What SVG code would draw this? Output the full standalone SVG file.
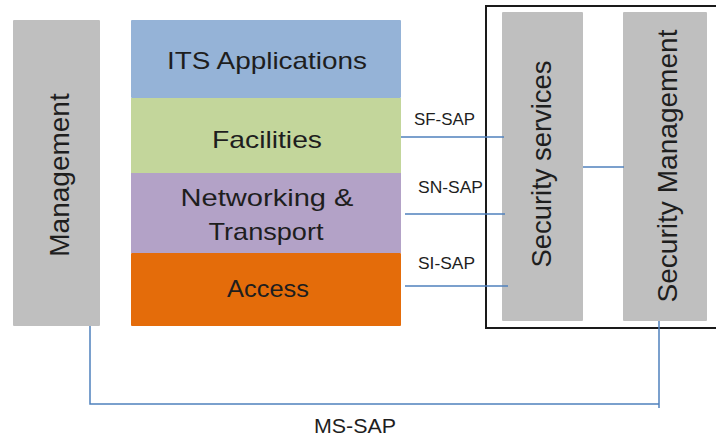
<svg xmlns="http://www.w3.org/2000/svg" width="716" height="439" viewBox="0 0 716 439">
  <style>
    .gray { fill: #bfbfbf; }
    .lbl { font-family: "Liberation Sans", Arial, sans-serif; fill: #1e1e1e; }
    .big { font-size: 24px; text-anchor: middle; }
    .vert { font-size: 28px; text-anchor: middle; }
    .sap { font-size: 17px; }
    .conn { stroke: #4f81bd; stroke-width: 1.5; fill: none; }
  </style>

  <!-- white page -->
  <rect x="0" y="0" width="716" height="439" fill="#ffffff"/>

  <!-- management column -->
  <g id="management">
    <rect class="gray" x="13" y="20" width="87" height="306" rx="1"/>
    <text class="lbl vert" transform="translate(69,175) rotate(-90)">Management</text>
  </g>

  <!-- protocol stack layers -->
  <g id="its-applications">
    <rect x="131" y="20" width="270" height="78" fill="#95b3d7" rx="1"/>
    <text class="lbl big" x="267" y="69" textLength="200" lengthAdjust="spacingAndGlyphs">ITS Applications</text>
  </g>
  <g id="facilities">
    <rect x="131" y="98" width="270" height="75" fill="#c3d69b"/>
    <text class="lbl big" x="267" y="148" textLength="110" lengthAdjust="spacingAndGlyphs">Facilities</text>
  </g>
  <g id="networking-transport">
    <rect x="131" y="173" width="270" height="80" fill="#b3a2c7"/>
    <text class="lbl big" x="267" y="206" textLength="173" lengthAdjust="spacingAndGlyphs">Networking &amp;</text>
    <text class="lbl big" x="266" y="240" textLength="115" lengthAdjust="spacingAndGlyphs">Transport</text>
  </g>
  <g id="access">
    <rect x="131" y="253" width="270" height="73" fill="#e46c0a" rx="1"/>
    <text class="lbl big" x="268" y="297" textLength="82" lengthAdjust="spacingAndGlyphs">Access</text>
  </g>

  <!-- security entity frame -->
  <g id="security-entity">
    <rect x="486" y="6" width="240" height="322" fill="none" stroke="#1a1a1a" stroke-width="2"/>
  </g>
  <g id="security-services">
    <rect class="gray" x="502" y="12" width="81" height="309" rx="1"/>
    <text class="lbl vert" transform="translate(551,164) rotate(-90)" textLength="207" lengthAdjust="spacingAndGlyphs">Security services</text>
  </g>
  <g id="security-management">
    <rect class="gray" x="623" y="12" width="84" height="309" rx="1"/>
    <text class="lbl vert" transform="translate(677,166) rotate(-90)" textLength="273" lengthAdjust="spacingAndGlyphs">Security Management</text>
  </g>

  <!-- service access points -->
  <g id="connectors">
    <line class="conn" x1="401" y1="137" x2="504" y2="137"/>
    <line class="conn" x1="405" y1="214" x2="505" y2="214"/>
    <line class="conn" x1="405" y1="286" x2="508" y2="286"/>
    <line class="conn" x1="583" y1="167" x2="624" y2="167"/>
    <polyline class="conn" points="90,326 90,404 659,404"/>
    <line class="conn" x1="659" y1="321" x2="659" y2="408"/>
  </g>

  <g id="sap-labels">
    <text class="lbl sap" x="414" y="125" textLength="61" lengthAdjust="spacingAndGlyphs">SF-SAP</text>
    <text class="lbl sap" x="418" y="193" textLength="65" lengthAdjust="spacingAndGlyphs">SN-SAP</text>
    <text class="lbl sap" x="418" y="269" textLength="57" lengthAdjust="spacingAndGlyphs">SI-SAP</text>
    <text class="lbl" x="314" y="433" font-size="21" textLength="82" lengthAdjust="spacingAndGlyphs">MS-SAP</text>
  </g>
</svg>
